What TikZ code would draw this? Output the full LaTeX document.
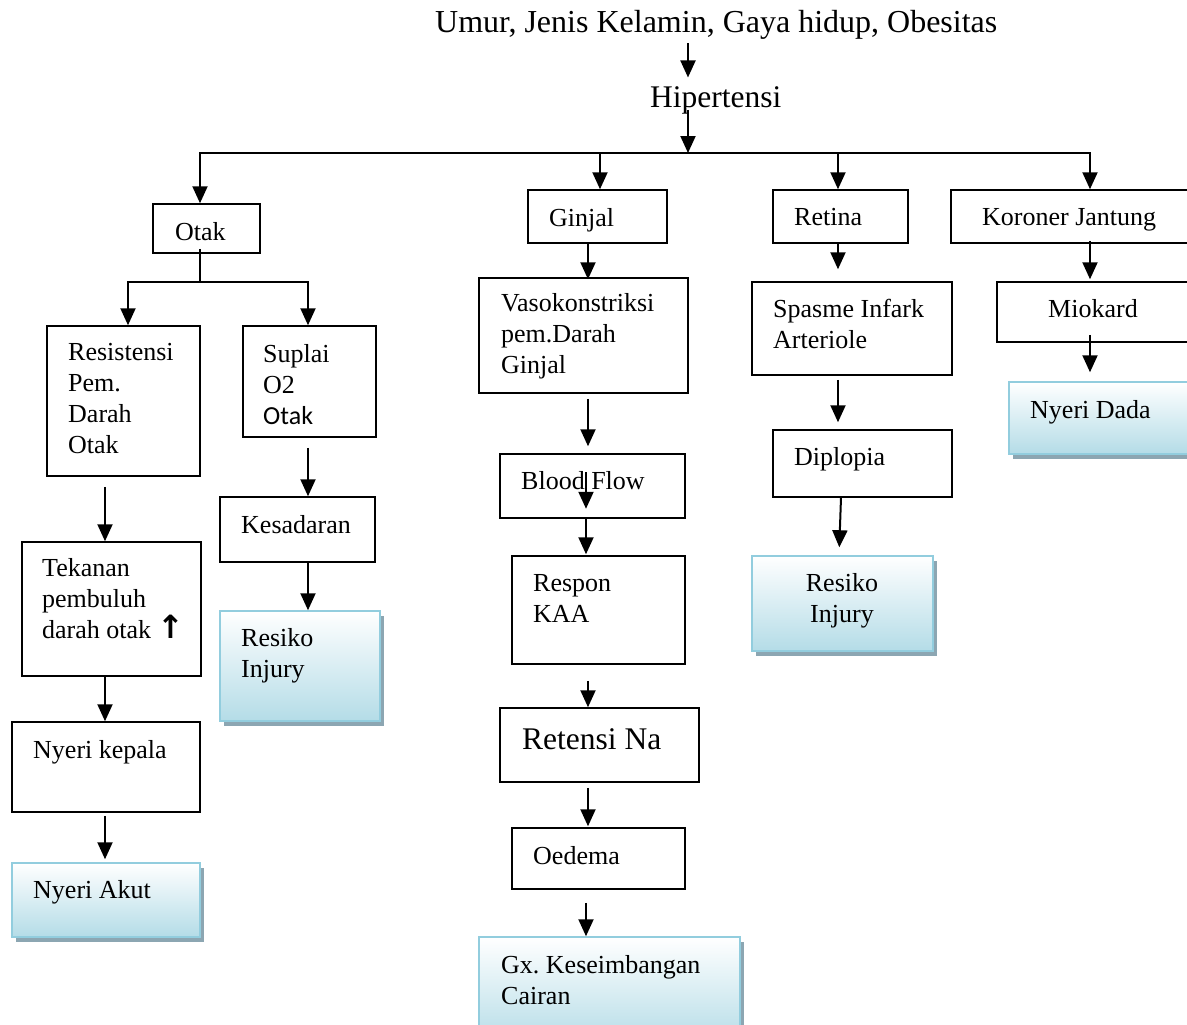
\documentclass[tikz,border=0pt]{standalone}
\usepackage{fontspec}
\setmainfont{Liberation Serif}
\newfontfamily\calib{Carlito}
\newfontfamily\djv{DejaVu Sans}
\usetikzlibrary{arrows.meta,fit,shadows}
\definecolor{sbord}{RGB}{146,205,222}
\definecolor{sbot}{RGB}{180,220,231}
\definecolor{sshad}{RGB}{140,166,178}
\frenchspacing
\begin{document}
\begin{tikzpicture}[x=1pt,y=-1pt,
  box/.style={draw, line width=1.5pt, inner sep=0pt, fill=white},
  sbox/.style={draw=sbord, line width=1.5pt, inner sep=0pt, top color=white, bottom color=sbot,
    drop shadow={shadow xshift=4pt, shadow yshift=-5pt, fill=sshad, opacity=1}},
  txt/.style={inner sep=0pt, anchor=base west, align=left, font=\fontsize{26}{30.7}\selectfont},
  big/.style={font=\fontsize{31.5}{36}\selectfont},
  arr/.style={line width=2pt, line join=miter, -{Triangle[length=17pt,width=15pt]}},
  ln/.style={line width=2pt},
]
\useasboundingbox (0,0) rectangle (1187,1025);
\clip (0,0) rectangle (1187,1025);

% column coordinates
\coordinate (cH) at (688,0);
\coordinate (cO) at (200,0);
\coordinate (cL) at (128,0);
\coordinate (cS) at (308,0);
\coordinate (cA) at (105,0);
\coordinate (cG) at (588,0);
\coordinate (cB) at (586,0);
\coordinate (cG2) at (600,0);
\coordinate (cR) at (838,0);
\coordinate (cR1) at (841,0);
\coordinate (cR2) at (839,0);
\coordinate (cK) at (1090,0);
\coordinate (busL) at (200,153);
\coordinate (busR) at (1090,153);
\coordinate (bus) at (688,153);
\coordinate (split) at (200,282);

% boxes
\node[box, fit={(153,204) (260,253)}] (otak) {};
\node[box, fit={(47,326) (200,476)}] (resist) {};
\node[box, fit={(243,326) (376,437)}] (suplai) {};
\node[box, fit={(220,497) (375,562)}] (kesad) {};
\node[sbox, fit={(220,611) (380,721)}] (risk1) {};
\node[box, fit={(22,542) (201,676)}] (tekan) {};
\node[box, fit={(12,722) (200,812)}] (nkep) {};
\node[sbox, fit={(12,863) (200,937)}] (nakut) {};
\node[box, fit={(528,190) (667,243)}] (ginjal) {};
\node[box, fit={(479,278) (688,393)}] (vaso) {};
\node[box, fit={(500,454) (685,518)}] (blood) {};
\node[box, fit={(512,556) (685,664)}] (respon) {};
\node[box, fit={(500,708) (699,782)}] (reten) {};
\node[box, fit={(512,828) (685,889)}] (oedema) {};
\node[sbox, fit={(479,937) (740,1045)}] (gx) {};
\node[box, fit={(773,190) (908,243)}] (retina) {};
\node[box, fit={(752,282) (952,375)}] (spasme) {};
\node[box, fit={(773,430) (952,497)}] (diplo) {};
\node[sbox, fit={(752,556) (933,651)}] (risk2) {};
\node[box, fit={(951,190) (1205,243)}] (koron) {};
\node[box, fit={(997,282) (1205,342)}] (miok) {};
\node[sbox, fit={(1009,382) (1205,454)}] (ndada) {};

% texts (anchor: baseline of the last line)
\node[txt, font=\fontsize{32}{36}\selectfont] (title) at (435,33) {Umur, Jenis Kelamin, Gaya hidup, Obesitas};
\node[txt, big] (hip) at (650,107) {Hipertensi};
\node[txt] (otakT) at (175,240) {Otak};
\node[txt] (resistT) at (68,453) {Resistensi\\Pem.\\Darah\\Otak};
\node[txt] (suplaiT) at (263,424) {Suplai\\O2\\{\calib Otak}};
\node[txt] (kesadT) at (241,533) {Kesadaran};
\node[txt] (risk1T) at (241,677) {Resiko\\Injury};
\node[txt] (tekanT) at (42,638) {Tekanan\\pembuluh\\darah otak {\djv\bfseries\fontsize{32}{32}\selectfont ↑}};
\node[txt] (nkepT) at (33,758) {Nyeri kepala};
\node[txt] (nakutT) at (33,898) {Nyeri Akut};
\node[txt] (ginjalT) at (549,226) {Ginjal};
\node[txt] (vasoT) at (501,373) {Vasokonstriksi\\pem.Darah\\Ginjal};
\node[txt] (bloodT) at (521,489) {Blood Flow};
\node[txt] (responT) at (533,622) {Respon\\KAA};
\node[txt, big] (retenT) at (522,749) {Retensi Na};
\node[txt] (oedemaT) at (533,864) {Oedema};
\node[txt] (gxT) at (501,1004) {Gx. Keseimbangan\\Cairan};
\node[txt] (retinaT) at (794,225) {Retina};
\node[txt] (spasmeT) at (773,348) {Spasme Infark\\Arteriole};
\node[txt] (diploT) at (794,465) {Diplopia};
\node[txt, anchor=base, align=center] (risk2T) at (842,622) {Resiko\\Injury};
\node[txt] (koronT) at (982,225) {Koroner Jantung};
\node[txt] (miokT) at (1048,317) {Miokard};
\node[txt] (ndadaT) at (1030,418) {Nyeri Dada};

% connectors
\draw[arr, shorten <=3pt, shorten >=8.5pt] (title.south -| cH) -- (hip.north -| cH);
\draw[arr, shorten <=-4pt] (hip.south -| cH) -- (bus);
\draw[arr] (busR) -- (busL) -- (otak.north -| busL);
\draw[arr] (busL) -- (busR) -- (koron.north -| busR);
\draw[arr] (busL -| cG2) -- (ginjal.north -| cG2);
\draw[arr] (busL -| cR) -- (retina.north -| cR);

\draw[ln, shorten <=-5pt] (otak.south -| cO) -- (split);
\draw[arr] (split -| cS) -- (split -| cL) -- (resist.north -| cL);
\draw[arr] (split -| cL) -- (split -| cS) -- (suplai.north -| cS);
\draw[arr, shorten <=10pt] (resist.south -| cA) -- (tekan.north -| cA);
\draw[arr] (tekan.south -| cA) -- (nkep.north -| cA);
\draw[arr, shorten <=3pt, shorten >=3pt] (nkep.south -| cA) -- (nakut.north -| cA);
\draw[arr, shorten <=10pt] (suplai.south -| cS) -- (kesad.north -| cS);
\draw[arr] (kesad.south -| cS) -- (risk1.north -| cS);

\draw[arr, shorten >=-2pt] (ginjal.south -| cG) -- (vaso.north -| cG);
\draw[arr, shorten <=5pt, shorten >=7pt] (vaso.south -| cG) -- (blood.north -| cG);
\draw[arr, shorten <=19pt, shorten >=10pt] (blood.north -| cB) -- (blood.south -| cB);
\draw[arr, shorten >=1pt] (blood.south -| cB) -- (respon.north -| cB);
\draw[arr, shorten <=16pt] (respon.south -| cG) -- (reten.north -| cG);
\draw[arr, shorten <=5pt, shorten >=1pt] (reten.south -| cG) -- (oedema.north -| cG);
\draw[arr, shorten <=13pt] (oedema.south -| cB) -- (gx.north -| cB);

\draw[arr, shorten >=12pt] (retina.south -| cR) -- (spasme.north -| cR);
\draw[arr, shorten <=4pt, shorten >=7pt] (spasme.south -| cR) -- (diplo.north -| cR);
\draw[arr, shorten >=8pt] (diplo.south -| cR1) -- (risk2.north -| cR2);

\draw[arr, shorten <=-3pt, shorten >=2pt] (koron.south -| cK) -- (miok.north -| cK);
\draw[arr, shorten <=-8pt, shorten >=9pt] (miok.south -| cK) -- (ndada.north -| cK);
\end{tikzpicture}
\end{document}
